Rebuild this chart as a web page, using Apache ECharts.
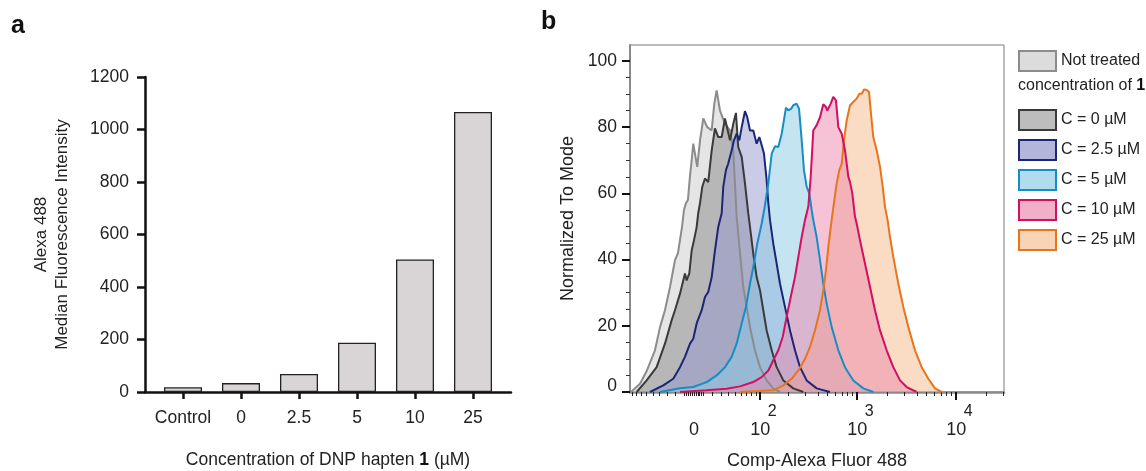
<!DOCTYPE html>
<html><head><meta charset="utf-8">
<script src="https://cdn.jsdelivr.net/npm/echarts@6/dist/echarts.min.js"></script>
<style>html,body{margin:0;padding:0;background:#fff}#c{width:1146px;height:471px}</style>
</head><body><div id="c"></div>
<script>
// ---------- Panel a data ----------
const barCategories = ['Control', '0', '2.5', '5', '10', '25'];
const barValues = [18, 34, 69, 188, 505, 1067];

// ---------- Panel b data (x in biexponential display units, y = % of mode) ----------
const seriesNames = ['Not treated', 'C = 0 µM', 'C = 2.5 µM', 'C = 5 µM', 'C = 10 µM', 'C = 25 µM'];
const histNotTreated = [[-0.636,0],[-0.545,2.5],[-0.475,6.5],[-0.394,12.6],[-0.343,19.6],[-0.293,24.7],[-0.242,31.7],[-0.192,39.8],[-0.162,41.9],[-0.121,49.8],[-0.101,55],[-0.081,57],[-0.061,58],[-0.041,65],[-0.023,70],[-0.007,75],[0.033,68],[0.061,76],[0.094,82.6],[0.134,80],[0.179,79],[0.205,87],[0.229,91.1],[0.263,85],[0.313,81],[0.364,79],[0.397,73],[0.414,63],[0.431,53],[0.465,42],[0.498,31.7],[0.532,25.7],[0.566,19.6],[0.616,12.6],[0.667,7.5],[0.734,3.5],[0.801,1.1],[0.869,0]];
const histC0 = [[-0.579,0],[-0.478,3.5],[-0.377,7.5],[-0.293,14.6],[-0.225,21.7],[-0.192,24.7],[-0.141,29.7],[-0.091,35.8],[-0.074,33.7],[-0.047,35.8],[-0.023,42.8],[0,45.8],[0.027,49.8],[0.043,54],[0.061,57],[0.084,62],[0.111,64.5],[0.144,63.4],[0.179,73],[0.212,79.6],[0.245,77],[0.280,77],[0.313,82.6],[0.330,83],[0.364,76],[0.397,81],[0.424,84.3],[0.447,74],[0.482,71],[0.515,63],[0.548,54],[0.566,49.8],[0.599,41.8],[0.633,34.7],[0.667,30.7],[0.700,24.7],[0.734,18.6],[0.785,12.6],[0.835,7.5],[0.902,3.5],[1.003,1.1],[1.104,0]];
const histC2_5 = [[-0.444,0],[-0.310,2],[-0.209,4],[-0.141,7.5],[-0.091,10.6],[-0.040,14.6],[-0.007,16.1],[0.027,20.7],[0.078,24.7],[0.111,28.7],[0.144,30.2],[0.179,34.7],[0.212,42.8],[0.245,49.8],[0.280,54],[0.296,62],[0.323,67],[0.346,69],[0.381,73],[0.404,76],[0.431,78],[0.458,76],[0.482,80],[0.515,84.8],[0.538,83],[0.566,79],[0.599,79],[0.633,75],[0.660,77],[0.684,74.5],[0.707,72],[0.734,64],[0.751,57],[0.768,51.9],[0.801,44.8],[0.835,38.8],[0.869,32.7],[0.919,25.7],[0.970,18.6],[1.020,12.6],[1.071,7.5],[1.138,3.5],[1.239,1.1],[1.374,0]];
const histC5 = [[-0.343,0],[-0.141,1.1],[-0.007,1.5],[0.128,3],[0.229,5],[0.313,7.5],[0.381,10.6],[0.431,14.6],[0.482,20.7],[0.525,25.7],[0.566,32.7],[0.606,38.8],[0.639,44.8],[0.684,50.9],[0.712,55.5],[0.751,63],[0.785,72],[0.818,74.2],[0.852,74],[0.886,78],[0.929,85.9],[0.952,85.1],[0.980,85.5],[1.003,86.6],[1.037,87.1],[1.061,85.6],[1.088,76],[1.111,67],[1.138,62],[1.165,60],[1.189,54.9],[1.205,52],[1.239,46.8],[1.273,39.8],[1.306,32.7],[1.340,26.7],[1.391,19.6],[1.458,12.6],[1.525,7.5],[1.609,3.5],[1.710,1.1],[1.811,0]];
const histC10 = [[-0.141,0],[0.128,0.5],[0.330,1],[0.465,1.7],[0.599,3],[0.684,4.5],[0.751,6.5],[0.801,9.6],[0.852,12.6],[0.896,16.6],[0.936,22.7],[0.977,28.7],[1.020,34.7],[1.054,40.8],[1.088,46.8],[1.121,51.9],[1.155,56],[1.179,65],[1.205,79],[1.239,80.6],[1.273,83],[1.306,86.9],[1.333,86.1],[1.346,85],[1.381,87.1],[1.407,89.1],[1.434,88.1],[1.458,80],[1.492,78],[1.525,73],[1.559,65],[1.576,63.4],[1.599,60],[1.626,53],[1.643,50.9],[1.677,45.8],[1.727,38.8],[1.778,31.7],[1.828,24.7],[1.879,18.6],[1.946,12.6],[2.013,7.5],[2.081,3.5],[2.148,1.5],[2.249,0]];
const histC25 = [[0.465,0],[0.801,0.5],[0.902,2],[0.987,4],[1.054,6.5],[1.121,10],[1.172,13.6],[1.222,18.6],[1.273,24.7],[1.306,30.7],[1.333,36.8],[1.357,43.8],[1.381,49.8],[1.404,55],[1.441,63],[1.468,67],[1.492,69],[1.515,76],[1.542,82],[1.576,86.6],[1.609,87.6],[1.643,88.6],[1.670,90.1],[1.694,90.1],[1.717,91.4],[1.744,91.2],[1.768,90.6],[1.788,84],[1.811,77],[1.845,73],[1.879,68],[1.906,62],[1.929,56],[1.955,52],[1.980,46.8],[2.013,40.8],[2.064,32.7],[2.114,25.7],[2.165,19.6],[2.232,12.6],[2.300,7.5],[2.367,4],[2.434,1.1],[2.502,0]];

// Axis tick values (raw fluorescence) for the biexponential x axis
const xMajorRaw = [0, 100, 1000, 10000];
const xMajorExp = ['', '2', '3', '4'];
const xMinorRaw = [-90,-80,-70,-60,-50,-40,-30,-20,-10,-8,-6,-4,-2,0,2,4,6,8,10,20,30,40,50,60,70,80,90,200,300,400,500,600,700,800,900,2000,3000,4000,5000,6000,7000,8000,9000,20000,30000];
const yMajorTicks = [0, 20, 40, 60, 80, 100];
const yMinorTicks = [5,10,15,25,30,35,45,50,55,65,70,75,85,90,95];

// ---------- rendering ----------
const FONT = '"Liberation Sans", Arial, Helvetica, sans-serif';
const biex = v => Math.asinh(v / 45) / Math.LN10;   // display transform
const xMajorPos = xMajorRaw.map(biex);
const xMinorPos = xMinorRaw.map(biex);
const XMIN = -0.646, XMAX = 3.131, YMAXB = 104.8;

const styles = [
  {line: '#8c8c8c', fill: '#cbcbcb', legend: '#dcdcdc'},
  {line: '#3a3a3a', fill: '#8a8a8a', legend: '#bdbdbd'},
  {line: '#1c2677', fill: '#9498d0', legend: '#b3b6da'},
  {line: '#168ec4', fill: '#8bc9e3', legend: '#b0dcee'},
  {line: '#d20f60', fill: '#ed87ad', legend: '#f1b0c8'},
  {line: '#e8751c', fill: '#f5b787', legend: '#f8d3b5'}
];
const hists = [histNotTreated, histC0, histC2_5, histC5, histC10, histC25];
const drawOrder = [0, 1, 2, 3, 5, 4];

const histSeries = drawOrder.map(i => ({
  name: seriesNames[i], type: 'line', xAxisIndex: 1, yAxisIndex: 1,
  data: hists[i], symbol: 'none', showSymbol: false, smooth: false,
  lineStyle: {color: styles[i].line, width: 2},
  itemStyle: {color: styles[i].line},
  areaStyle: {color: styles[i].fill, opacity: 0.5},
  emphasis: {disabled: true}
}));

const legendItem = i => ({name: seriesNames[i], icon: 'rect',
  itemStyle: {color: styles[i].legend, borderColor: styles[i].line, borderWidth: 2}});

const chart = echarts.init(document.getElementById('c'), null, {renderer: 'canvas'});
chart.setOption({
  animation: false,
  textStyle: {fontFamily: FONT},
  graphic: [
    {type: 'text', left: 11, top: 14, style: {text: 'a', font: 'bold 25px ' + FONT, fill: '#111'}},
    {type: 'text', left: 541, top: 10, style: {text: 'b', font: 'bold 25px ' + FONT, fill: '#111'}}
  ],
  title: {text: 'concentration of {b|1}', left: 1018, top: 78, padding: 0,
    textStyle: {fontSize: 16, fontWeight: 'normal', color: '#222', fontFamily: FONT,
      rich: {b: {fontSize: 16, fontWeight: 'bold', color: '#111', fontFamily: FONT}}}},
  legend: [
    {data: [legendItem(0)], left: 1018, top: 50, padding: 0, itemWidth: 37, itemHeight: 20,
     selectedMode: false, textStyle: {fontSize: 16, color: '#222', fontFamily: FONT}},
    {data: [1, 2, 3, 4, 5].map(legendItem), orient: 'vertical', left: 1018, top: 109, padding: 0,
     itemWidth: 37, itemHeight: 20, itemGap: 8, selectedMode: false,
     textStyle: {fontSize: 16, color: '#222', fontFamily: FONT}}
  ],
  grid: [
    {left: 145, top: 77, width: 366, height: 315, outerBoundsMode: 'none', containLabel: false},
    {left: 630, top: 45, width: 374, height: 347, outerBoundsMode: 'none', containLabel: false,
     show: true, borderColor: '#7a7a7a', borderWidth: 1, backgroundColor: 'rgba(0,0,0,0)'}
  ],
  xAxis: [
    {gridIndex: 0, type: 'value', min: -0.655, max: 5.655, position: 'bottom',
     axisLine: {onZero: false, lineStyle: {color: '#111', width: 2.5}},
     axisTick: {customValues: [0, 1, 2, 3, 4, 5], length: 7, lineStyle: {color: '#111', width: 2.5}},
     axisLabel: {customValues: [0, 1, 2, 3, 4, 5], formatter: v => barCategories[Math.round(v)],
       fontSize: 17.5, color: '#222', margin: 17},
     splitLine: {show: false},
     name: 'Concentration of DNP hapten {b|1} (µM)', nameLocation: 'middle', nameGap: 59, nameMoveOverlap: false,
     nameTextStyle: {fontSize: 17.5, color: '#222', rich: {b: {fontSize: 17.5, fontWeight: 'bold', color: '#111'}}}},
    {gridIndex: 1, type: 'value', min: XMIN, max: XMAX, position: 'bottom',
     axisLine: {onZero: false, lineStyle: {color: '#8a8a8a', width: 2.5}},
     axisTick: {customValues: xMajorPos.slice(1), length: 8, lineStyle: {color: '#111', width: 2}},
     axisLabel: {customValues: xMajorPos, margin: 11, color: '#222',
       formatter: v => {
         const i = xMajorPos.findIndex(p => Math.abs(p - v) < 1e-6);
         return i <= 0 ? '{e| }\n{b|0}' : '{e|' + xMajorExp[i] + '}\n{b|10}';
       },
       rich: {e: {fontSize: 16, lineHeight: 18, padding: [0, 0, 0, 24], color: '#222'},
              b: {fontSize: 18, lineHeight: 18, color: '#222'}}},
     splitLine: {show: false},
     name: 'Comp-Alexa Fluor 488', nameLocation: 'middle', nameGap: 60, nameMoveOverlap: false,
     nameTextStyle: {fontSize: 18, color: '#222'}},
    {gridIndex: 1, type: 'value', min: XMIN, max: XMAX, position: 'bottom',
     axisLine: {show: false, onZero: false},
     axisTick: {customValues: xMinorPos, length: 4, lineStyle: {color: '#222', width: 1}},
     axisLabel: {show: false}, splitLine: {show: false}}
  ],
  yAxis: [
    {gridIndex: 0, type: 'value', min: 0, max: 1200, interval: 200, position: 'left',
     axisLine: {show: true, onZero: false, lineStyle: {color: '#111', width: 2.5}},
     axisTick: {show: true, length: 8, lineStyle: {color: '#111', width: 2.5}},
     axisLabel: {fontSize: 17.5, color: '#222', margin: 16, formatter: v => String(v)},
     splitLine: {show: false},
     name: 'Alexa 488\nMedian Fluorescence Intensity', nameLocation: 'middle', nameGap: 72, nameMoveOverlap: false,
     nameTextStyle: {fontSize: 17, color: '#222', lineHeight: 21}},
    {gridIndex: 1, type: 'value', min: 0, max: YMAXB, position: 'left',
     axisLine: {show: true, onZero: false, lineStyle: {color: '#8a8a8a', width: 2}},
     axisTick: {show: true, customValues: yMajorTicks, length: 8, lineStyle: {color: '#111', width: 2}},
     axisLabel: {customValues: yMajorTicks, fontSize: 17.5, color: '#222', margin: 13,
       formatter: v => v === 0 ? '{z|0}' : String(v),
       rich: {z: {fontSize: 17.5, color: '#222', padding: [0, 0, 12, 0]}}},
     splitLine: {show: false},
     name: 'Normalized To Mode', nameLocation: 'middle', nameGap: 53, nameMoveOverlap: false,
     nameTextStyle: {fontSize: 18, color: '#222'}},
    {gridIndex: 1, type: 'value', min: 0, max: YMAXB, position: 'left',
     axisLine: {show: false, onZero: false},
     axisTick: {show: true, customValues: yMinorTicks, length: 4, lineStyle: {color: '#333', width: 1}},
     axisLabel: {show: false}, splitLine: {show: false}}
  ],
  series: [
    {name: 'MFI', type: 'bar', xAxisIndex: 0, yAxisIndex: 0,
     data: barValues.map((v, i) => [i, v]), barWidth: 38,
     itemStyle: {color: '#d9d5d7', borderColor: '#222', borderWidth: 1.3},
     emphasis: {disabled: true}},
    ...histSeries
  ]
});
</script></body></html>
